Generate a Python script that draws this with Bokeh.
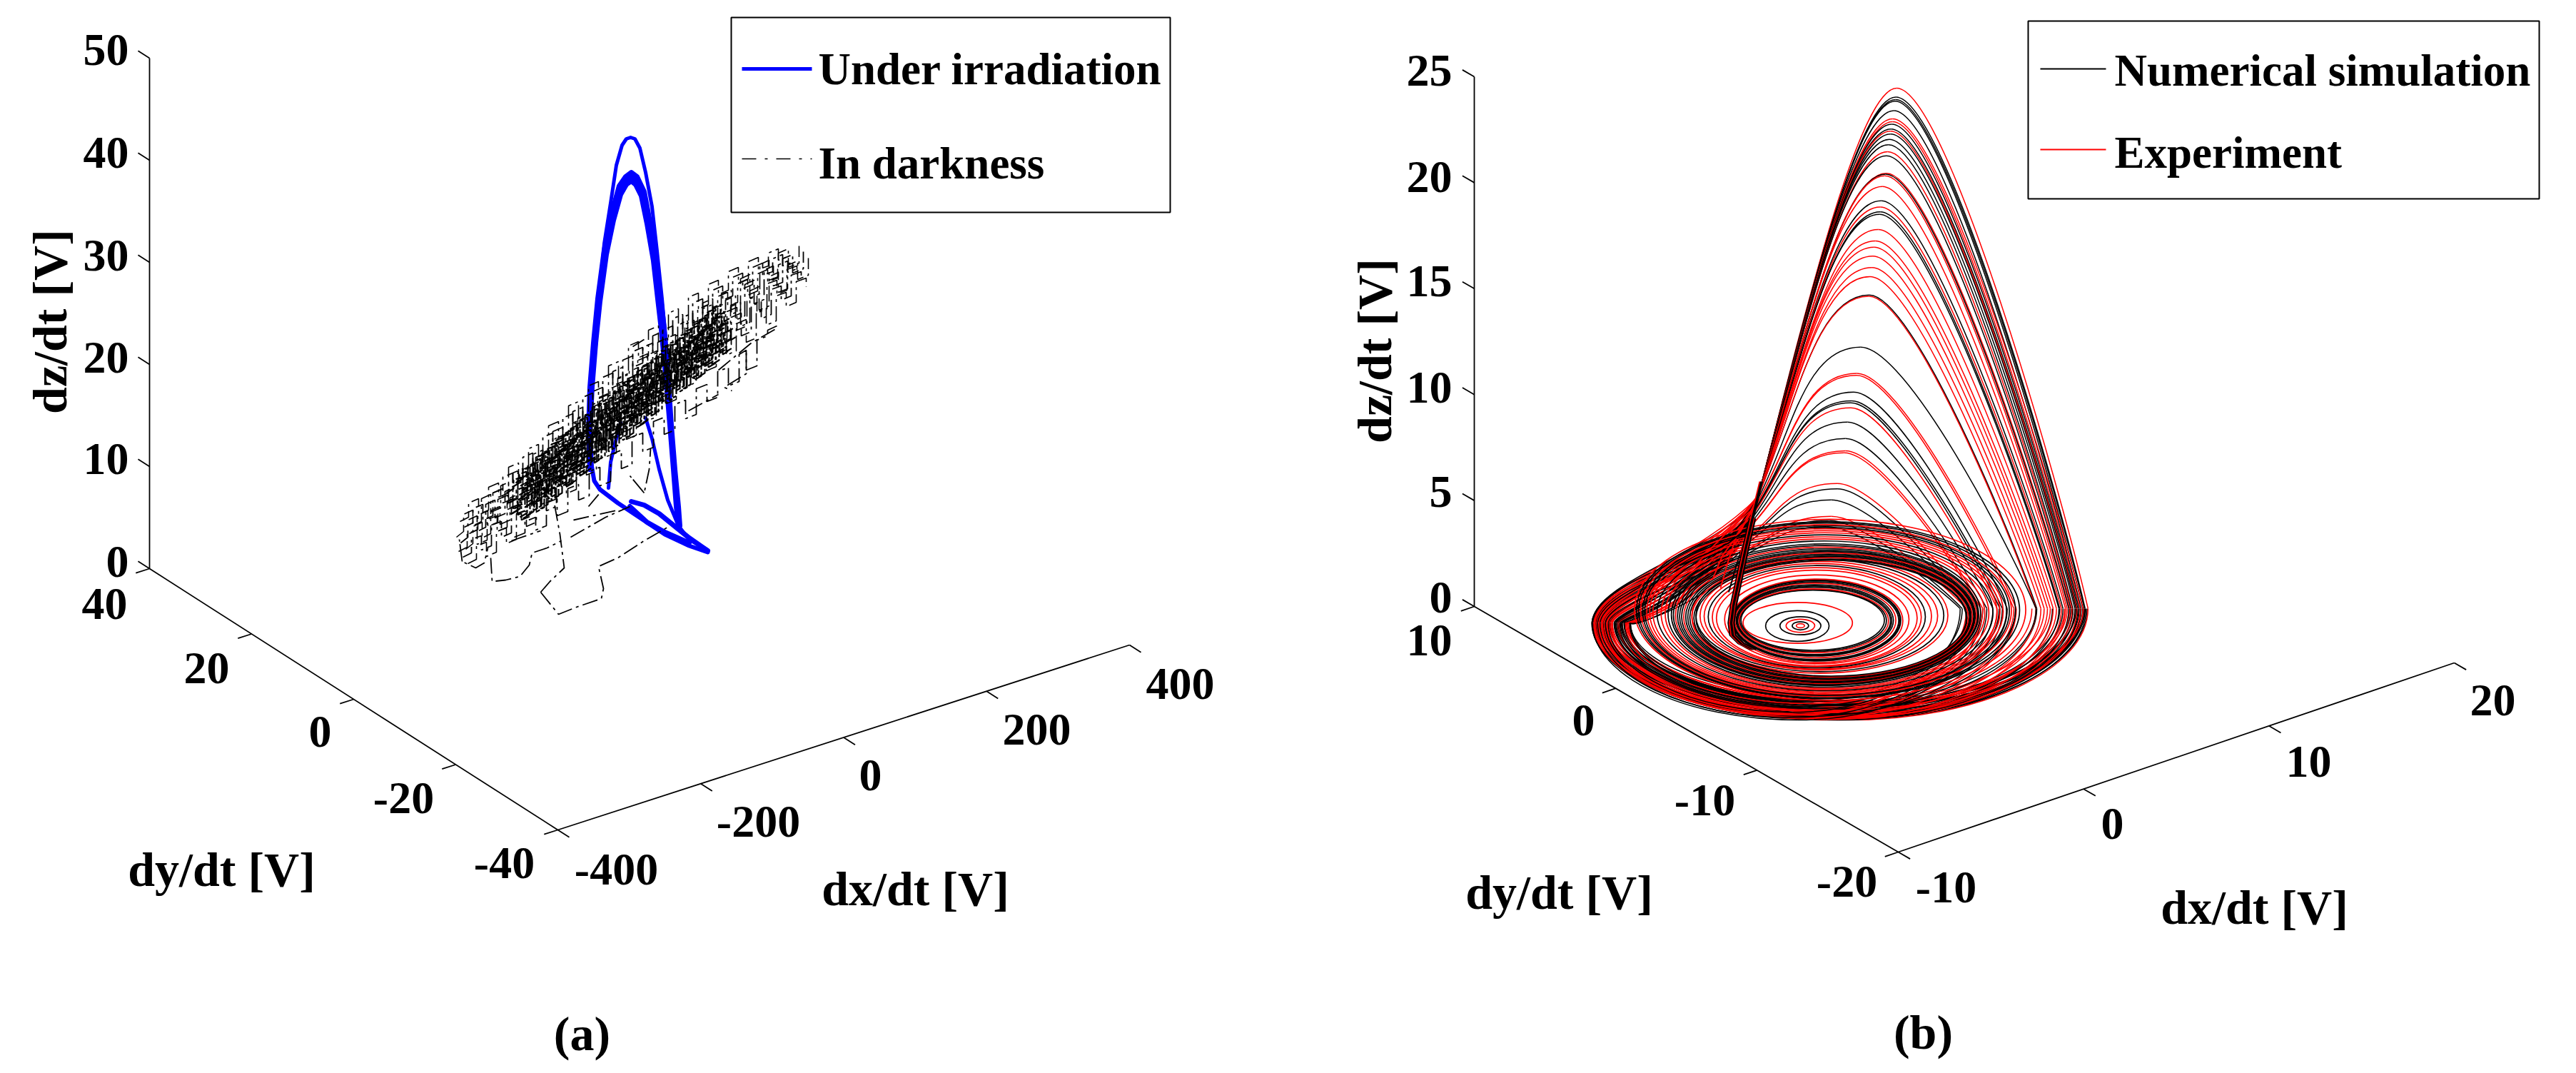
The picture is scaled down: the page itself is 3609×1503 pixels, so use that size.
from bokeh.plotting import figure
from bokeh.layouts import row
from bokeh.embed import file_html
from bokeh.resources import INLINE
from bokeh.core.properties import value
import numpy as np

FONT = value("Liberation Serif")

# ---------- panel (a): axis values ----------
a_x_ticks = [-400, -200, 0, 200, 400]
a_y_ticks = [40, 20, 0, -20, -40]
a_z_ticks = [0, 10, 20, 30, 40, 50]
a_x_lab = [(863, 1217), (1062, 1150), (1219, 1085), (1452, 1021), (1653, 957)]
a_y_lab = [(146, 845), (289, 935), (448, 1024), (565, 1117), (706, 1208)]
a_z_lab = [(180, 786), (180, 642), (180, 500), (180, 357), (180, 213), (180, 69)]

# blue trajectory (image-plane reading of the 3-D curve)
blue_band1 = [828,657, 826,604, 829,542, 834,480, 840,422, 849,356, 859,308, 869,272, 877,258, 884,253, 890,258, 898,274, 906,313, 915,365, 921,418, 926,461, 932,523, 938,595, 943,657, 947,709, 950,736]
blue_band2 = [826,657, 824,604, 826,542, 831,480, 837,418, 846,350, 856,300, 867,260, 876,247, 884,241, 892,247, 902,268, 910,310, 919,362, 925,416, 930,459, 935,521, 940,595, 945,657, 950,709, 952,736]
blue_band3 = [827,657, 825,604, 827,542, 832,480, 838,420, 847,353, 857,304, 868,266, 876,252, 884,247, 891,252, 900,271, 908,311, 917,363, 923,417, 928,460, 934,522, 939,595, 944,657, 948,709, 951,736]
blue_outer = [829,532, 834,485, 840,408, 846,341, 855,284, 863,231, 871,203, 877,194, 883,192, 889,194, 896,207, 904,241, 913,289, 920,351, 927,418, 933,485]
blue_low1 = [828,650, 832,673, 840,685, 865,704, 898,726, 931,748, 965,764, 991,773]
blue_low2 = [950,736, 965,755, 991,771]
blue_lens1 = [884,702, 902,707, 923,719, 944,736, 965,753, 991,771]
blue_lens2 = [882,709, 906,731, 931,745, 965,760]
blue_in1 = [852,683, 855,647, 861,621, 869,592]
blue_in2 = [904,585, 913,614, 923,657, 935,700, 950,736]

# dash-dot trajectory: jagged passes read along the band
dark_j1 = [645,760, 655,752, 655,728, 668,722, 668,744, 680,738, 680,706, 693,700, 693,725, 707,719, 707,688, 718,683, 718,712, 731,706, 731,668, 745,662, 745,690, 756,685, 756,648, 770,642, 770,668, 783,662, 783,622, 795,617, 795,648, 808,642, 808,600, 822,594, 822,626, 835,620, 835,578, 848,572, 848,604, 860,599, 860,552, 874,546, 874,580, 887,574, 887,528, 900,522, 900,560, 912,555, 912,505, 926,499, 926,535, 938,530, 938,482, 952,476, 952,512, 965,506, 965,462, 978,456, 978,490, 990,485, 990,440, 1004,434, 1004,470, 1016,465, 1016,420, 1030,414, 1030,448, 1043,442, 1043,398, 1056,392, 1056,425, 1070,419, 1070,378, 1083,372, 1083,400, 1096,395, 1096,362, 1110,356, 1110,382, 1125,376, 1125,352]
dark_j2 = [650,738, 662,732, 662,712, 676,706, 676,728, 690,722, 690,690, 704,684, 704,704, 718,698, 718,662, 732,656, 732,678, 746,672, 746,636, 760,630, 760,650, 774,644, 774,604, 788,598, 788,620, 802,614, 802,576, 816,570, 816,594, 830,588, 830,548, 844,542, 844,566, 858,560, 858,520, 872,514, 872,538, 886,532, 886,492, 900,486, 900,512, 914,506, 914,470, 928,464, 928,486, 942,480, 942,446, 956,440, 956,462, 970,456, 970,424, 984,418, 984,440, 998,434, 998,406, 1012,400, 1012,420, 1026,414, 1026,388, 1040,382, 1040,404, 1054,398, 1054,374, 1068,368, 1068,385, 1082,380, 1082,362, 1096,356, 1096,372, 1112,366]
dark_j3 = [648,780, 660,774, 660,755, 674,750, 674,770, 688,764, 688,735, 702,730, 702,752, 716,746, 716,710, 730,705, 730,728, 744,722, 744,690, 758,684, 758,706, 772,700, 772,664, 786,658, 786,682, 800,676, 800,638, 814,632, 814,656, 828,650, 828,612, 842,606, 842,630, 856,625, 856,588, 870,582, 870,606, 884,600, 884,562, 898,556, 898,580, 912,575, 912,536, 926,530, 926,556, 940,550, 940,512, 954,506, 954,532, 968,526, 968,488, 982,482, 982,510, 996,504, 996,466, 1010,460, 1010,488, 1024,482, 1024,444, 1038,438, 1038,470, 1052,464, 1052,428, 1066,422, 1066,446, 1080,440, 1080,405, 1094,400, 1094,420, 1108,414, 1108,385, 1122,380, 1122,392]
dark_j4 = [720,752, 735,746, 735,730, 750,724, 750,742, 765,736, 765,704, 780,698, 780,722, 795,716, 795,684, 810,678, 810,700, 825,694, 825,660, 840,654, 840,680, 855,674, 855,636, 870,630, 870,656, 885,650, 885,612, 900,606, 900,632, 915,626, 915,590, 930,584, 930,608, 945,602, 945,566, 960,560, 960,586, 975,580, 975,544, 990,538, 990,562, 1005,556, 1005,520, 1020,514, 1020,540, 1035,534, 1035,496, 1045,490, 1045,518, 1060,512, 1060,476, 1075,470, 1075,462, 1088,456]
dark_j5 = [690,690, 704,684, 704,668, 718,662, 718,676, 732,670, 732,640, 746,634, 746,650, 760,644, 760,612, 774,606, 774,622, 788,616, 788,585, 802,579, 802,594, 816,588, 816,556, 830,550, 830,566, 844,560, 844,528, 858,522, 858,540, 872,534, 872,504, 886,498, 886,514, 900,508, 900,486, 914,480, 914,496, 928,490, 928,462, 942,456, 942,472, 956,466, 956,444, 970,438, 970,452, 984,446, 984,424, 998,418, 998,432, 1012,426]
dark_core = [725,700, 735,694, 735,682, 745,678, 745,690, 755,684, 755,664, 765,660, 765,674, 775,668, 775,646, 785,642, 785,656, 795,650, 795,630, 805,625, 805,640, 815,634, 815,612, 825,608, 825,622, 835,616, 835,594, 845,590, 845,606, 855,600, 855,578, 865,574, 865,590, 875,584, 875,560, 885,556, 885,572, 895,566, 895,544, 905,540, 905,556, 915,550, 915,528, 925,524, 925,538, 935,532, 935,510, 945,506, 945,522, 955,516, 955,494, 965,490, 965,506, 975,500, 975,478, 985,474, 985,488, 995,482, 995,460, 1005,456, 1005,470, 1015,464]
core_dx = [0, 6, -5, 10, -8, 3, -3, 14, -12, 7, 4, -7, 18, -16, 12, -10, 2, 9]
core_dy = [0, -14, 12, 10, -18, 24, -24, -6, 4, 26, -30, 18, 6, -10, 22, 20, -7, -20]
side_dx = [7, -6]
side_dy = [9, -8]
dark_strays = [
    [687,781, 689,814, 708,812, 728,807, 741,791, 745,774, 766,767, 786,757],
    [757,829, 782,860, 807,850, 842,838, 845,824, 838,793, 865,781, 902,757, 935,738],
    [757,829, 770,814, 790,795, 784,748, 776,704],
    [902,690, 882,666, 902,690, 909,657, 911,628],
    [799,752, 848,724, 882,709],
    [647,786, 643,755, 647,786, 666,795, 678,788, 683,767],
    [1045,494, 1045,523, 1014,542, 1025,547],
    [1085,461, 1052,480, 1006,518],
    [964,575, 1006,552],
    [886,485, 902,475],
    [824,709, 840,690],
    [803,728, 865,714],
    [716,757, 757,743],
]

# ---------- panel (b): axis values ----------
b_x_ticks = [-10, 0, 10, 20]
b_y_ticks = [10, 0, -10, -20]
b_z_ticks = [0, 5, 10, 15, 20, 25]
b_x_lab = [(2726, 1242), (2959, 1153), (3234, 1066), (3492, 980)]
b_y_lab = [(2002, 896), (2218, 1008), (2388, 1120), (2587, 1234)]
b_z_lab = [(2034, 836), (2034, 688), (2034, 542), (2034, 393), (2034, 247), (2034, 98)]

K, R = "#000000", "#ff0000"
# concentric ground rings (edges read in a 0.574-scale view of the attractor)
ring_left = [725,715,700,685,650,595, 590,587,585,582,580,578,575,572,570,568,565, 550,530,520,510,500,490,480,470, 480,475,470,465,460,455,450,445,440,435,430,425,420,412, 405,395,385,375,367,360,355,350,345,340,335,330]
ring_right = [745,755,770,785,805,862, 940,945,950,955,958,962,968,975,978,980,985, 1000,1020,1030,1040,1055,1070,1085,1095, 1140,1142,1145,1148,1150,1152,1155,1158,1160,1162,1165,1168,1170,1175, 1185,1195,1205,1215,1222,1230,1238,1245,1250,1260,1270,1285]
ring_top = [1347,1342,1336,1330,1315,1295, 1265,1264,1262,1258,1255,1252,1248,1245,1242,1240,1238, 1228,1216,1210,1205,1200,1195,1190,1185, 1192,1189,1186,1183,1180,1177,1174,1171,1168,1164,1160,1156,1152,1145, 1140,1135,1130,1125,1120,1115,1112,1108,1105,1101,1098,1092]
ring_bottom = [1357,1362,1368,1374,1390,1395, 1412,1415,1418,1422,1424,1426,1430,1434,1436,1438,1442, 1445,1450,1452,1455,1458,1460,1464,1468, 1475,1477,1478,1480,1482,1484,1486,1488,1490,1492,1494,1496,1498,1502, 1505,1508,1511,1514,1517,1520,1522,1524,1525,1528,1530,1534]
ring_color = [R,K,R,K,K,R, K,K,R,K,K,K,R,K,K,K,R, R,R,R,K,R,R,K,R, K,K,R,K,K,K,R,K,K,K,R,K,K,K, R,R,K,R,R,R,K,K,R,K,K,R]

# loops rising from the ground into the cone
peak_y = [40,62,68,72,95,115,122,128,140,145,152,165,178,195,205,248,250,254,280,315,330,342,348,385,413,428,450,478,500,545,548,672,736,741,782,803,808,820,855,895,925,930,1005,1018,1045,1085,1095,1110]
peak_x = [970,968,967,966,963,960,960,958,956,955,955,952,950,948,945,945,943,941,935,932,930,930,928,925,918,915,912,910,905,903,902,882,873,872,865,860,858,858,850,845,845,842,825,825,810,810,805,800]
loop_right = [1437,1430,1428,1424,1420,1425,1418,1415,1412,1410,1408,1405,1400,1398,1395,1392,1390,1386,1382,1376,1372,1368,1366,1360,1352,1345,1338,1330,1322,1312,1310,1310,1262,1256,1240,1228,1222,1215,1205,1190,1180,1175,1160,1150,1150,1140,1130,1125]
loop_left = [228,300,250,270,236,310,244,290,260,232,320,254,280,240,296,268,226,312,248,286,234,304,258,276,242,316,264,292,230,282,250,306,238,272,298,246,320,262,284,228,308,256,274,240,294,252,318,266]
loop_bottom = [1582,1546,1571,1561,1578,1541,1574,1551,1566,1580,1536,1569,1556,1576,1548,1562,1582,1540,1572,1553,1579,1544,1567,1558,1575,1538,1564,1550,1581,1555,1571,1543,1577,1560,1547,1573,1536,1565,1554,1582,1542,1568,1559,1576,1549,1570,1537,1563]
loop_color = [R,K,K,K,K,R,R,K,K,R,K,K,K,R,K,R,K,R,R,K,R,K,K,R,R,R,R,R,R,K,R,K,R,R,K,K,K,R,K,K,R,R,R,K,K,R,K,K]

# extra ground passes that do not climb the cone
arc_right = [1432,1428,1425,1420,1415,1405,1400,1435,1380,1350,1300,1260,1220,1180]
arc_bottom = [1580,1565,1574,1558,1570,1552,1562,1576,1546,1582,1539,1567,1555,1578]
arc_left = [232,262,244,276,252,288,268,240,300,226,314,258,282,236]
arc_color = [K,R,K,R,K,R,K,K,R,K,R,K,K,K]

# re-injection stem and the fan at its foot
stem_x = [620,590,570,566,572,585,600,618,640,665]
stem_y = [1410,1395,1375,1345,1300,1240,1170,1090,1000,910]
stem_offset = [-7,-4,-1,2,5,7]
stem_color = [K,R,K,K,R,K]
fan_lines = [
    [630,1040, 590,1120, 545,1180, 520,1240],
    [625,1060, 580,1130, 560,1190, 540,1260],
    [620,1070, 600,1140, 580,1200, 560,1270],
    [635,1030, 570,1110, 520,1160, 470,1215],
    [615,1100, 590,1170, 590,1230, 575,1290],
    [610,1110, 560,1150, 510,1175, 440,1205],
]
fan_color = [R,R,K,R,R,K]

# ---------- helpers ----------
def make_fig(x0, x1):
    f = figure(width=x1 - x0, height=1487, x_range=(x0, x1), y_range=(1487, 0),
               output_backend="svg", toolbar_location=None,
               x_axis_location=None, y_axis_location=None, min_border=0)
    f.grid.visible = False
    f.outline_line_color = None
    f.background_fill_color = "white"
    return f

def pair(flat):
    return flat[0::2], flat[1::2]

def labels(f, pts, txt, size, align="center", angle=0):
    f.text([q[0] for q in pts], [q[1] for q in pts], text=txt, text_font=FONT, text_font_style="bold",
           text_font_size=size, text_color="black", text_align=align, text_baseline="middle", angle=angle)

def draw_axes(f, origin, xv, yv, zv, xt, yt, zt, xr, yr, zr):
    o = np.array(origin, float); xv = np.array(xv, float); yv = np.array(yv, float); zv = np.array(zv, float)
    def P(dx, dy, dz):
        return o + (dx - xr[0]) / (xr[1] - xr[0]) * xv + (yr[1] - dy) / (yr[1] - yr[0]) * yv + (dz - zr[0]) / (zr[1] - zr[0]) * zv
    segs = [(P(xr[0], yr[1], zr[1]), P(xr[0], yr[1], zr[0])),
            (P(xr[0], yr[1], zr[0]), P(xr[0], yr[0], zr[0])),
            (P(xr[0], yr[0], zr[0]), P(xr[1], yr[0], zr[0]))]
    for t in xt:
        a = P(t, yr[0], zr[0]); segs.append((a, a + 0.028 * yv))
    for t in yt:
        a = P(xr[0], t, zr[0]); segs.append((a, a - 0.024 * xv))
    for t in zt:
        a = P(xr[0], yr[1], t); segs.append((a, a - 0.028 * yv))
    f.multi_line([[s[0][0], s[1][0]] for s in segs], [[s[0][1], s[1][1]] for s in segs],
                 line_color="black", line_width=1.8)

# ---------- panel (a) ----------
pa = make_fig(0, 1793)
draw_axes(pa, (209, 796), (801, -259), (572, 366), (0, -715),
          a_x_ticks, a_y_ticks, a_z_ticks, (-400, 400), (-40, 40), (0, 50))
for line, lw in [(blue_outer, 5), (blue_band1, 7), (blue_band2, 7), (blue_band3, 7), (blue_low1, 6), (blue_low2, 5),
                 (blue_lens1, 7), (blue_lens2, 7), (blue_in1, 5), (blue_in2, 5)]:
    xs, ys = pair(line)
    pa.line(xs, ys, line_color="#0000ff", line_width=lw, line_join="round", line_cap="round")

DD = "22 6 4 6"
for line in [dark_j1, dark_j2, dark_j3, dark_j4, dark_j5] + dark_strays:
    xs, ys = pair(line)
    pa.line(xs, ys, line_color="black", line_width=1.8, line_dash=DD)
for line in [dark_j1, dark_j2, dark_j3]:
    xs, ys = pair(line)
    for sx, sy in zip(side_dx, side_dy):
        pa.line([v + sx for v in xs], [v + sy for v in ys], line_color="black", line_width=1.6, line_dash=DD)
cx, cy = pair(dark_core)
for sx, sy in zip(core_dx, core_dy):
    pa.line([v + sx for v in cx], [v + sy for v in cy], line_color="black", line_width=2.2, line_dash="16 3 5 3")

labels(pa, a_z_lab, ["0", "10", "20", "30", "40", "50"], "64px", "right")
labels(pa, a_y_lab, ["40", "20", "0", "-20", "-40"], "64px")
labels(pa, a_x_lab, ["-400", "-200", "0", "200", "400"], "64px")
labels(pa, [(69, 450)], ["dz/dt [V]"], "68px", angle=np.pi / 2)
labels(pa, [(310, 1217)], ["dy/dt [V]"], "68px")
labels(pa, [(1282, 1244)], ["dx/dt [V]"], "68px")
labels(pa, [(815, 1447)], ["(a)"], "68px")

pa.quad(left=[1024], right=[1639], top=[24], bottom=[297], fill_color="white", line_color="black", line_width=2)
pa.line([1039, 1137], [96, 96], line_color="#0000ff", line_width=5)
pa.line([1039, 1137], [222, 222], line_color="black", line_width=1.6, line_dash="20 12 4 12")
labels(pa, [(1146, 96), (1146, 228)], ["Under irradiation", "In darkness"], "63px", "left")

# ---------- panel (b) ----------
pb = make_fig(1793, 3593)
draw_axes(pb, (2065, 849), (779, -265), (594, 344), (0, -742),
          b_x_ticks, b_y_ticks, b_z_ticks, (-10, 20), (-20, 10), (0, 25))
VK = 0.574
vx = lambda v: 2100 + VK * np.asarray(v, float)
vy = lambda v: 100 + VK * np.asarray(v, float)

RY, CY = 1310.0, 1345.0
x0, y0, x1, y1, c0x, c0y, c1x, c1y, col = [], [], [], [], [], [], [], [], []
def cubic(a, b, c, d, color):
    x0.append(a[0]); y0.append(a[1]); c0x.append(b[0]); c0y.append(b[1])
    c1x.append(c[0]); c1y.append(c[1]); x1.append(d[0]); y1.append(d[1]); col.append(color)

def ground(rx, by, lx, T, color):
    mx = (lx + rx) / 2 + 20
    cubic((rx, RY), (rx, RY + .55 * (by - RY)), (mx + .55 * (rx - mx), by), (mx, by), color)
    cubic((mx, by), (mx - .55 * (mx - lx), by), (lx, CY + .55 * (by - CY)), (lx, CY), color)
    cubic((lx, CY), (lx + 8, 1250 + 1.2 * (lx - 228)), (470 + .9 * (lx - 228), 1195 + .9 * (lx - 228)), T, color)

for rx, by, lx, c in zip(arc_right, arc_bottom, arc_left, arc_color):
    ground(rx, by, lx, (600, 1125), c)

for px, py, rx, by, lx, c in zip(peak_x, peak_y, loop_right, loop_bottom, loop_left, loop_color):
    k = .5 + .4 * (1 - py / 1100)
    ty = py + k * (1250 - py)
    tx = float(np.interp(ty, stem_y[:2:-1], stem_x[:2:-1]))
    ground(rx, by, lx, (tx, ty), c)
    f = .245 + .3 * min(1, py / 680)
    cubic((tx, ty), (tx + .35 * (px - tx), ty + .46 * (py - ty)), (px - f * (px - tx), py), (px, py), c)
    cubic((px, py), (px + .26 * (rx - px), py), (rx - .15 * (rx - px), RY - .24 * (RY - py)), (rx, RY), c)

pb.bezier(x0=vx(x0), y0=vy(y0), x1=vx(x1), y1=vy(y1), cx0=vx(c0x), cy0=vy(c0y), cx1=vx(c1x), cy1=vy(c1y),
          line_color=col, line_width=1.5)

rl, rr, rt, rb = map(np.array, (ring_left, ring_right, ring_top, ring_bottom))
pb.ellipse(x=vx((rl + rr) / 2), y=vy((rt + rb) / 2), width=VK * (rr - rl), height=VK * (rb - rt),
           fill_color=None, line_color=ring_color, line_width=1.7)

for line, c in zip(fan_lines, fan_color):
    xs, ys = pair(line)
    pb.line(vx(xs), vy(ys), line_color=c, line_width=1.9)
for off, c in zip(stem_offset, stem_color):
    top = 8 if abs(off) >= 5 else 9
    pb.line(vx(np.array(stem_x[:top]) + off), vy(stem_y[:top]), line_color=c, line_width=2.2)

labels(pb, b_z_lab, ["0", "5", "10", "15", "20", "25"], "64px", "right")
labels(pb, b_y_lab, ["10", "0", "-10", "-20"], "64px")
labels(pb, b_x_lab, ["-10", "0", "10", "20"], "64px")
labels(pb, [(1925, 491)], ["dz/dt [V]"], "68px", angle=np.pi / 2)
labels(pb, [(2184, 1249)], ["dy/dt [V]"], "68px")
labels(pb, [(3158, 1270)], ["dx/dt [V]"], "68px")
labels(pb, [(2694, 1445)], ["(b)"], "68px")

pb.quad(left=[2841], right=[3557], top=[29], bottom=[278], fill_color="white", line_color="black", line_width=2)
pb.line([2858, 2950], [96, 96], line_color="black", line_width=1.8)
pb.line([2858, 2950], [209, 209], line_color="#ff0000", line_width=1.8)
labels(pb, [(2962, 98), (2962, 213)], ["Numerical simulation", "Experiment"], "63px", "left")

open("out.html", "w").write(file_html(row(pa, pb), INLINE))
